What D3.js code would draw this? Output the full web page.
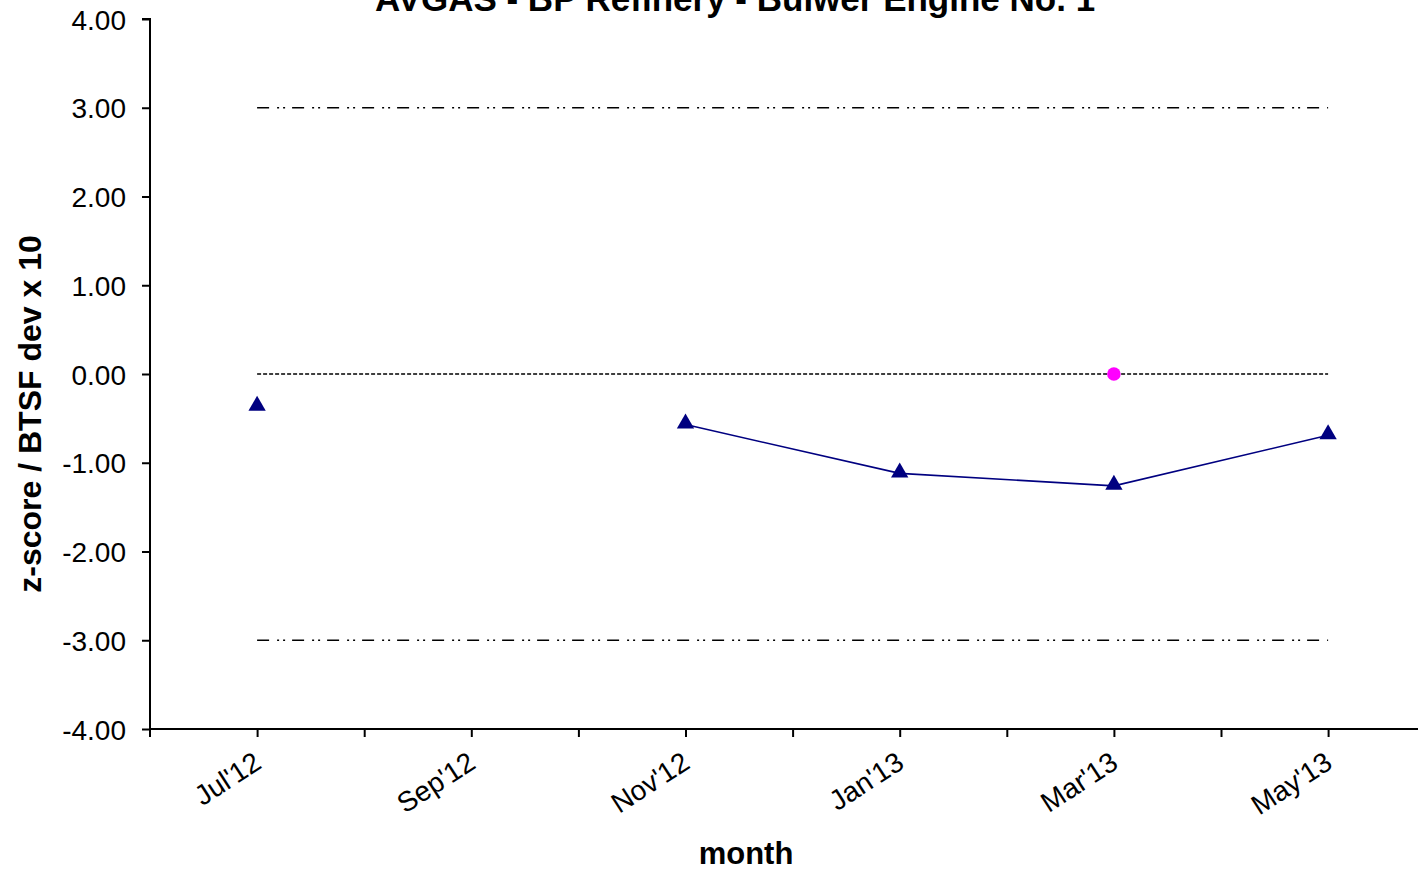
<!DOCTYPE html>
<html>
<head>
<meta charset="utf-8">
<script src="https://cdn.jsdelivr.net/npm/d3@7"></script>
<style>
  html, body { margin: 0; padding: 0; background: #fff; }
  svg { display: block; font-family: "Liberation Sans", Arial, sans-serif; }
</style>
</head>
<body>
<svg id="chart" width="1418" height="874"></svg>
<script>
// ---- data ----
const title = "AVGAS - BP Refinery - Bulwer Engine No. 1";
const yLabel = "z-score / BTSF dev x 10";
const xLabel = "month";
const months = ["Jul'12","Aug'12","Sep'12","Oct'12","Nov'12","Dec'12","Jan'13","Feb'13","Mar'13","Apr'13","May'13"];
const labelMonths = ["Jul'12","Sep'12","Nov'12","Jan'13","Mar'13","May'13"];
// series points (null breaks the line)
const seriesMonths = ["Jul'12","Sep'12","Nov'12","Jan'13","Mar'13","May'13"];
const seriesValues = [-0.37, null, -0.57, -1.12, -1.26, -0.69];
// highlighted point
const markMonths = ["Mar'13"];
const markValues = [0.0];
// reference lines
const limitValues = [3, -3];
const centerValue = 0;
const refStart = "Jul'12", refEnd = "May'13";
const yTicks = [4,3,2,1,0,-1,-2,-3,-4];

// ---- layout ----
const svg = d3.select("#chart");
const x0 = 150, y0 = 19, yBottom = 729;
const monthW = 107.1;
const idx = m => months.indexOf(m);
const x = d3.scaleLinear().domain([-1, 11]).range([x0, x0 + 12 * monthW]);
const y = d3.scaleLinear().domain([-4, 4]).range([yBottom, y0]);
const fmt = d => d3.format(".2f")(d).replace("\u2212", "-");

// title
svg.append("text").attr("x", 735).attr("y", 11).attr("text-anchor", "middle")
  .attr("font-weight", "bold").attr("font-size", 35).text(title);

// y axis
const yAxis = d3.axisLeft(y).tickValues(yTicks).tickFormat(fmt).tickSize(8).tickPadding(16);
const gy = svg.append("g").attr("transform", `translate(${x0},0)`).call(yAxis);
gy.select(".domain").attr("stroke-width", 2).attr("d", `M-8,${y(4)}H0V${y(-4)}`);
gy.selectAll(".tick line").attr("stroke-width", 2);
gy.selectAll(".tick text").attr("font-size", 28).attr("font-family", "Liberation Sans, Arial, sans-serif").attr("fill", "#000").attr("dy", "0.36em");

// x axis
const xAxis = d3.axisBottom(x).tickValues(d3.range(0, 11)).tickSize(8).tickFormat(() => "");
const gx = svg.append("g").attr("transform", `translate(0,${yBottom})`).call(xAxis);
gx.select(".domain").attr("stroke-width", 2).attr("d", `M${x0},8V0H${1418}`);
gx.selectAll(".tick line").attr("stroke-width", 2);
svg.selectAll(".lbl").data(labelMonths).join("text")
  .attr("class", "lbl")
  .attr("transform", d => `translate(${x(idx(d)) + 6},${yBottom + 38}) rotate(-33)`)
  .attr("text-anchor", "end").attr("font-size", 28)
  .text(d => d);

// axis titles
svg.append("text").attr("transform", `translate(41,414) rotate(-90)`).attr("text-anchor", "middle")
  .attr("font-weight", "bold").attr("font-size", 32).text(yLabel);
svg.append("text").attr("x", 746).attr("y", 864).attr("text-anchor", "middle")
  .attr("font-weight", "bold").attr("font-size", 31).text(xLabel);

// reference lines
svg.selectAll(".limit").data(limitValues).join("line").attr("class", "limit")
  .attr("x1", x(idx(refStart))).attr("x2", x(idx(refEnd)))
  .attr("y1", d => y(d)).attr("y2", d => y(d))
  .attr("stroke", "#000").attr("stroke-width", 1.6).attr("stroke-dasharray", "12,8,2,4,2,7");
svg.append("line").attr("x1", x(idx(refStart))).attr("x2", x(idx(refEnd)))
  .attr("y1", y(centerValue)).attr("y2", y(centerValue))
  .attr("stroke", "#000").attr("stroke-width", 1.3).attr("stroke-dasharray", "4,2");

// series
const pts = seriesMonths.map((m, i) => ({ m, v: seriesValues[i] }));
const line = d3.line().defined(d => d.v !== null).x(d => x(idx(d.m))).y(d => y(d.v));
svg.append("path").attr("d", line(pts)).attr("fill", "none").attr("stroke", "#000080").attr("stroke-width", 1.6);
const tri = d3.symbol().type(d3.symbolTriangle).size(130);
svg.selectAll(".tri").data(pts.filter(d => d.v !== null)).join("path").attr("class", "tri")
  .attr("d", tri).attr("transform", d => `translate(${x(idx(d.m))},${y(d.v) - 1})`)
  .attr("fill", "#000080");

// highlighted point
svg.selectAll(".mk").data(markMonths).join("circle").attr("class", "mk")
  .attr("cx", d => x(idx(d))).attr("cy", (d, i) => y(markValues[i]))
  .attr("r", 6.8).attr("fill", "#ff00ff");
</script>
</body>
</html>
